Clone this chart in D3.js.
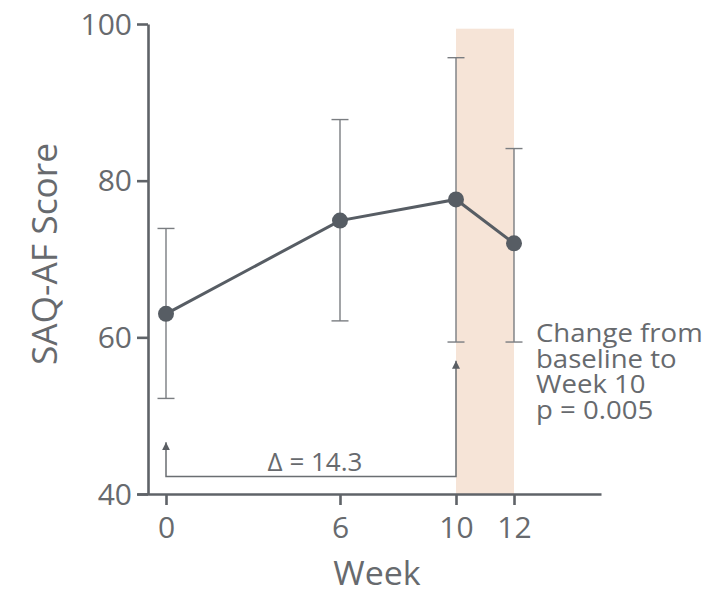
<!DOCTYPE html>
<html>
<head>
<meta charset="utf-8">
<script src="https://cdn.jsdelivr.net/npm/d3@7"></script>
<style>
  body { margin: 0; background: #fff; }
  svg { font-family: "Open Sans", sans-serif; }
</style>
</head>
<body>
<script>
const weeks = [0, 6, 10, 12];
const means = [63.0, 74.9, 77.6, 72.0];
const upper = [73.9, 87.8, 95.7, 84.1];
const lower = [52.2, 62.1, 59.4, 59.4];
const yTicks = [40, 60, 80, 100];
const shadeWeeks = [10, 12];
const deltaLabel = "\u0394 = 14.3";
const noteLines = ["Change from", "baseline to", "Week 10", "p = 0.005"];

const width = 712, height = 590;
const axisColor = "#5f6368";
const textColor = "#676a6e";
const barColor = "#7a7d81";
const dotColor = "#575d64";

const x = d3.scaleLinear().domain([-1, 15]).range([137, 601]);
const y = d3.scaleLinear().domain([40, 100]).range([494, 24]);
const yAxisX = 148;

const svg = d3.select("body").append("svg")
  .attr("width", width)
  .attr("height", height);

// text with a slight horizontal stretch (reference face runs a bit wide)
function label(px, py, txt, size, stretch, anchor, rot) {
  return svg.append("text")
    .attr("transform", `translate(${px},${py})` + (rot ? ` rotate(${rot})` : "") + ` scale(${stretch},1)`)
    .attr("text-anchor", anchor || "start")
    .attr("font-size", size)
    .attr("fill", textColor)
    .text(txt);
}

// shaded week 10-12 band
svg.append("rect")
  .attr("x", x(shadeWeeks[0]))
  .attr("y", y(99.4))
  .attr("width", x(shadeWeeks[1]) - x(shadeWeeks[0]))
  .attr("height", y(40) - y(99.4))
  .attr("fill", "#f6e4d7");

// axes
const yAxis = svg.append("g")
  .attr("transform", `translate(${yAxisX},0)`)
  .call(d3.axisLeft(y).tickValues(yTicks).tickSize(11).tickSizeOuter(0).tickPadding(5));
const xAxis = svg.append("g")
  .attr("transform", `translate(0,${y(40)})`)
  .call(d3.axisBottom(x).tickValues(weeks).tickSize(11).tickSizeOuter(0).tickPadding(12));

[yAxis, xAxis].forEach((g) => {
  g.selectAll("path, line").attr("stroke", axisColor).attr("stroke-width", 2.6);
  g.selectAll("text")
    .attr("fill", textColor)
    .attr("font-size", 30)
    .attr("font-family", "Open Sans");
});
yAxis.selectAll("text").attr("dy", "0.34em");

// delta bracket
const arrowY = 476.5;
svg.append("defs").append("marker")
  .attr("id", "arrow")
  .attr("viewBox", "0 0 10 10")
  .attr("refX", 10).attr("refY", 5)
  .attr("markerWidth", 8).attr("markerHeight", 8)
  .attr("markerUnits", "userSpaceOnUse")
  .attr("orient", "auto-start-reverse")
  .append("path")
  .attr("d", "M0,0L10,5L0,10Z")
  .attr("fill", "#5a5e63");

svg.append("path")
  .attr("d", `M${x(0)},${y(46.6)}V${arrowY}H${x(10)}V${y(57.0)}`)
  .attr("fill", "none")
  .attr("stroke", "#6a6e72")
  .attr("stroke-width", 1.5)
  .attr("marker-start", "url(#arrow)")
  .attr("marker-end", "url(#arrow)");

label(315, 471, deltaLabel, 25, 1.04, "middle");

// error bars
const capHalf = 8.5;
const bars = svg.append("g")
  .attr("stroke", barColor)
  .attr("stroke-width", 1.4)
  .selectAll("g")
  .data(weeks)
  .join("g");
bars.append("line")
  .attr("x1", (d) => x(d)).attr("x2", (d) => x(d))
  .attr("y1", (d, i) => y(upper[i])).attr("y2", (d, i) => y(lower[i]));
bars.append("line")
  .attr("x1", (d) => x(d) - capHalf).attr("x2", (d) => x(d) + capHalf)
  .attr("y1", (d, i) => y(upper[i])).attr("y2", (d, i) => y(upper[i]));
bars.append("line")
  .attr("x1", (d) => x(d) - capHalf).attr("x2", (d) => x(d) + capHalf)
  .attr("y1", (d, i) => y(lower[i])).attr("y2", (d, i) => y(lower[i]));

// mean line + points
const line = d3.line().x((d) => x(d)).y((d, i) => y(means[i]));
svg.append("path")
  .datum(weeks)
  .attr("d", line)
  .attr("fill", "none")
  .attr("stroke", dotColor)
  .attr("stroke-width", 3);

svg.append("g")
  .selectAll("circle")
  .data(weeks)
  .join("circle")
  .attr("cx", (d) => x(d))
  .attr("cy", (d, i) => y(means[i]))
  .attr("r", 8)
  .attr("fill", dotColor);

// note
noteLines.forEach((t, i) => label(536, 342 + i * 25.5, t, 26, 1.06));

// axis titles
label(377, 585, "Week", 33, 1.03, "middle");
label(57, 254, "SAQ-AF Score", 34, 1.04, "middle", -90);
</script>
</body>
</html>
